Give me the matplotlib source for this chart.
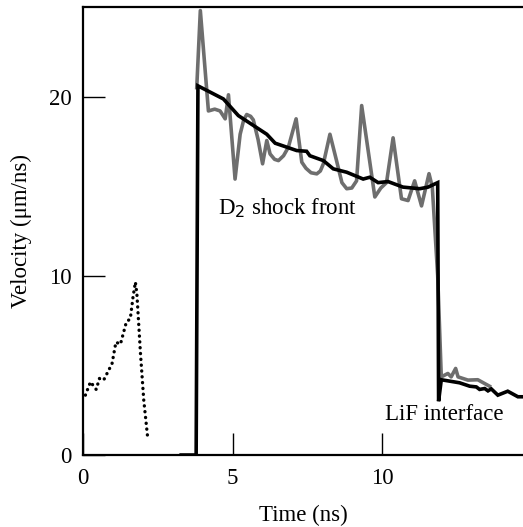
import matplotlib
matplotlib.use("Agg")
import matplotlib.pyplot as plt

# dotted trace (early time)
dot_t = [0.08, 0.25, 0.44, 0.55, 0.69, 0.97, 1.10, 1.25, 1.45, 1.58, 1.67, 1.75, 1.80, 1.92, 2.03, 2.16]
dot_v = [3.34, 4.08, 3.66, 4.27, 4.18, 5.10, 6.30, 6.18, 7.43, 7.60, 8.80, 9.65, 9.00, 5.67, 3.06, 0.98]

# gray trace (noisy)
gray_t = [3.80, 3.92, 4.19, 4.40, 4.58, 4.75, 4.86, 5.08, 5.25, 5.37, 5.47, 5.60, 5.69, 5.85,
          6.00, 6.14, 6.25, 6.40, 6.53, 6.70, 6.86, 7.12, 7.31, 7.45, 7.62, 7.81, 7.93, 8.03,
          8.25, 8.47, 8.65, 8.81, 8.98, 9.14, 9.31, 9.75, 9.95, 10.14, 10.36, 10.64, 10.86,
          11.08, 11.31, 11.56, 11.67, 11.85, 11.97, 12.19, 12.30, 12.45, 12.53, 12.86, 13.19, 13.58]
gray_v = [20.5, 24.8, 19.2, 19.3, 19.2, 18.76, 20.1, 15.4, 17.9, 18.7, 19.0, 18.9, 18.7, 17.6,
          16.25, 17.55, 16.8, 16.5, 16.43, 16.7, 17.17, 18.76, 16.34, 16.0, 15.75, 15.69, 15.85, 16.25,
          17.9, 16.43, 15.2, 14.86, 14.9, 15.3, 19.5, 14.4, 14.9, 15.2, 17.7,
          14.3, 14.2, 15.3, 13.9, 15.7, 14.95, 10.0, 4.36, 4.55, 4.36, 4.83, 4.36,
          4.18, 4.2, 3.84]

# black trace (smoothed)
black_t = [3.28, 3.78, 3.84, 4.69, 5.19, 6.14, 6.42, 7.14, 7.47, 7.58, 8.03, 8.36, 8.81, 9.36,
           9.58, 9.86, 10.19, 10.69, 11.25, 11.53, 11.85, 11.88, 11.97, 12.58, 12.92, 13.14,
           13.25, 13.42, 13.53, 13.64, 13.86, 14.19, 14.53, 14.70]
black_v = [0.0, 0.0, 20.6, 19.87, 18.94, 17.9, 17.4, 16.99, 16.95, 16.7, 16.43, 15.97, 15.78, 15.4,
           15.5, 15.2, 15.26, 14.95, 14.86, 14.95, 15.2, 3.0, 4.2, 4.03, 3.84, 3.8,
           3.66, 3.71, 3.58, 3.69, 3.34, 3.56, 3.25, 3.25]

plt.rcParams["font.family"] = ["Liberation Serif", "DejaVu Serif"]
plt.rcParams["font.size"] = 16

fig = plt.figure(figsize=(5.23, 5.27), dpi=100)
ax = fig.add_axes([0.1587, 0.1366, 0.8413, 0.8501])

ax.plot(dot_t, dot_v, color="black", lw=2.4, linestyle=(0, (0.05, 1.7)),
        dash_capstyle="round", solid_capstyle="round")
ax.plot(gray_t, gray_v, color="#6e6e6e", lw=2.6, solid_joinstyle="round")
ax.plot(black_t, black_v, color="black", lw=2.6, solid_joinstyle="miter")

ax.text(4.52, 13.8, "D$_2$ shock front", fontsize=16.5, va="center", ha="left")
ax.text(10.08, 2.28, "LiF interface", fontsize=16.5, va="center", ha="left")

ax.set_xlim(0, 14.7)
ax.set_ylim(0, 25)
ax.set_xticks([0, 5, 10])
ax.set_yticks([0, 10, 20])
ax.tick_params(direction="in", length=16, width=1, labelsize=16.5)
ax.tick_params(axis="x", pad=9)
ax.tick_params(axis="y", pad=8)
ax.spines["right"].set_visible(False)
for s in ["left", "top", "bottom"]:
    ax.spines[s].set_linewidth(1.6)

ax.set_xlabel("Time (ns)", fontsize=16.5, labelpad=12)
ax.set_ylabel("Velocity (μm/ns)", fontsize=16.5, labelpad=12)

fig.savefig("out.png", dpi=100)
